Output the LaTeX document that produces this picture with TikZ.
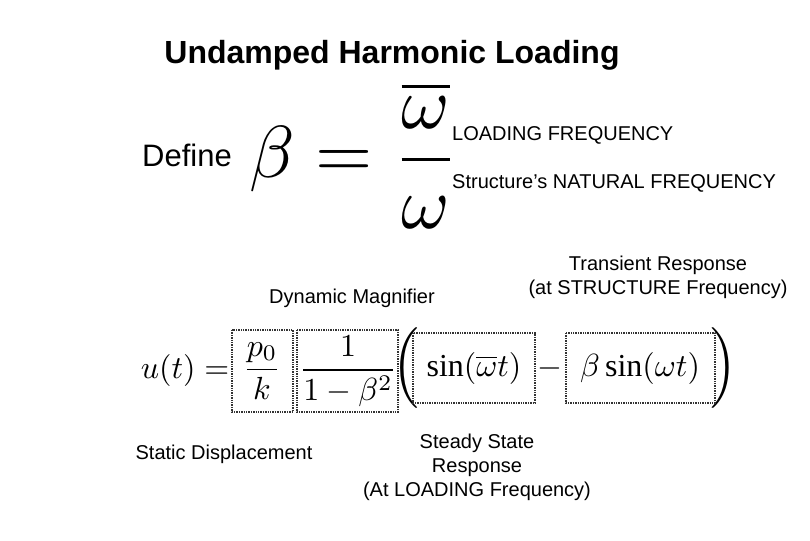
\documentclass[tikz,border=0pt]{standalone}
\usepackage{amsmath}
\usepackage{fontspec}
\setmainfont{Liberation Sans}
\newfontfamily\serifsin{Liberation Serif}
\newcommand{\Sin}{\mathop{\text{\serifsin sin}}\nolimits}
\begin{document}
\begin{tikzpicture}[x=1pt,y=-1pt,
  lbl/.style={inner sep=0pt,font=\fontsize{20}{24}\selectfont,align=center},
  eq/.style={inner sep=0pt,scale=3.2},
  bx/.style={draw=black!80,line width=1.4pt,densely dotted}]
\useasboundingbox (0,0) rectangle (810,540);
\node[inner sep=0pt,font=\bfseries\fontsize{32}{36}\selectfont] (title) at (392,55) {Undamped Harmonic Loading};
\node[inner sep=0pt,font=\fontsize{31}{34}\selectfont] (def) at (187,155) {Define};
\node[eq,scale=2.3] (beta) at (354,155) {$\beta=\dfrac{\overline{\omega}}{\omega}$};
\node[lbl,anchor=west] (lf) at (452,135) {LOADING FREQUENCY};
\node[lbl,anchor=west] (nf) at (452,183) {Structure’s NATURAL FREQUENCY};
\node[lbl] (dm) at (352,298) {Dynamic Magnifier};
\node[lbl] (tr) at (658,277) {Transient Response\\(at STRUCTURE Frequency)};
\node[eq,anchor=east] (u) at (230,370) {$u(t)=$};
\node[eq] (f1) at (262,371) {$\dfrac{p_0}{k}$};
\node[eq] (f2) at (348,371) {$\dfrac{1}{1-\beta^2}$};
\node[eq,scale=1.4] (lp) at (406,368) {$\Big($};
\node[eq] (s1) at (474,368) {$\Sin(\overline{\omega}t)$};
\node[eq] (mn) at (550,368) {$-$};
\node[eq] (s2) at (640,368) {$\beta\Sin(\omega t)$};
\node[eq,scale=1.4] (rp) at (724,368) {$\Big)$};
\draw[bx] (232,330) rectangle (293,412);
\draw[bx] (297,330) rectangle (398,412);
\draw[bx] (413,333) rectangle (535,403);
\draw[bx] (566,333) rectangle (715,403);
\node[lbl] (sd) at (224,454) {Static Displacement};
\node[lbl] (ss) at (477,467) {Steady State\\Response\\(At LOADING Frequency)};
\end{tikzpicture}
\end{document}
